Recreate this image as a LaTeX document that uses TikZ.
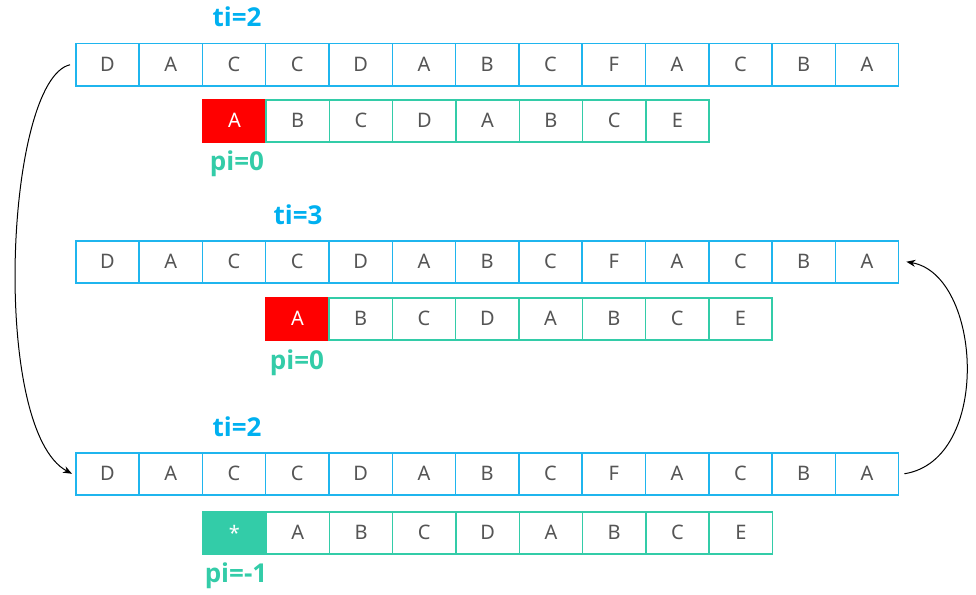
\documentclass[tikz,border=0pt]{standalone}
\usepackage{fontspec}
\setmainfont{Noto Sans}
\newfontfamily\labfont{Open Sans}[BoldFont={* Bold}]
\usetikzlibrary{arrows.meta}
\definecolor{tblue}{HTML}{1FB5EE}
\definecolor{lblue}{HTML}{00B0F0}
\definecolor{pgreen}{HTML}{33CCA8}
\definecolor{tgray}{HTML}{555555}
\tikzset{
  tcell/.style={draw=tblue, line width=1.5pt, minimum width=63.3pt, minimum height=42pt, inner sep=0pt, anchor=north west, text=tgray, font=\fontsize{20}{20}\selectfont},
  pcell/.style={draw=pgreen, line width=1.5pt, minimum width=63.3pt, minimum height=42pt, inner sep=0pt, anchor=north west, text=tgray, font=\fontsize{20}{20}\selectfont},
  redcell/.style={pcell, draw=red, fill=red, text=white},
  starcell/.style={pcell, fill=pgreen, text=white},
  tlabel/.style={text=lblue, font=\labfont\bfseries\fontsize{26}{26}\selectfont},
  plabel/.style={text=pgreen, font=\labfont\bfseries\fontsize{26}{26}\selectfont},
  conn/.style={-{Stealth[length=9pt,width=7pt]}, line width=1pt, black}
}
\begin{document}
\begin{tikzpicture}[x=1pt,y=-1pt]
\useasboundingbox (0,0) rectangle (976,594);
% text rows
\foreach \r/\y in {1/43,2/240,3/452}{
  \foreach \c [count=\i from 0] in {D,A,C,C,D,A,B,C,F,A,C,B,A}{
    \node[tcell] (t\r-\i) at ({75+\i*63.3},\y) {\c};
  }
}
% pattern row 1
\foreach \c [count=\i from 0] in {A,B,C,D,A,B,C,E}{
  \ifnum\i=0
    \node[redcell] (p1-\i) at ({202+\i*63.3},99) {\c};
  \else
    \node[pcell] (p1-\i) at ({202+\i*63.3},99) {\c};
  \fi
}
% pattern row 2
\foreach \c [count=\i from 0] in {A,B,C,D,A,B,C,E}{
  \ifnum\i=0
    \node[redcell] (p2-\i) at ({265+\i*63.3},297) {\c};
  \else
    \node[pcell] (p2-\i) at ({265+\i*63.3},297) {\c};
  \fi
}
% pattern row 3
\foreach \c [count=\i from 0] in {*,A,B,C,D,A,B,C,E}{
  \ifnum\i=0
    \node[starcell] (p3-\i) at ({202+\i*63.3},511) {\c};
  \else
    \node[pcell] (p3-\i) at ({202+\i*63.3},511) {\c};
  \fi
}
% labels
\node[tlabel] (ti1) at (237,17) {ti=2};
\node[plabel] (pi1) at (237,164) {pi=0};
\node[tlabel] (ti2) at (298,215) {ti=3};
\node[plabel] (pi2) at (297,363) {pi=0};
\node[tlabel] (ti3) at (237,427) {ti=2};
\node[plabel] (pi3) at (236,576) {pi=-1};
% connectors
\draw[conn] ([xshift=-5pt]t1-0.west) .. controls (5,80) and (-10,430) .. ([xshift=-3pt]t3-0.west);
\draw[conn] ([xshift=5pt]t3-12.east) .. controls (992,460) and (982,275) .. ([xshift=7pt]t2-12.east);
\end{tikzpicture}
\end{document}
